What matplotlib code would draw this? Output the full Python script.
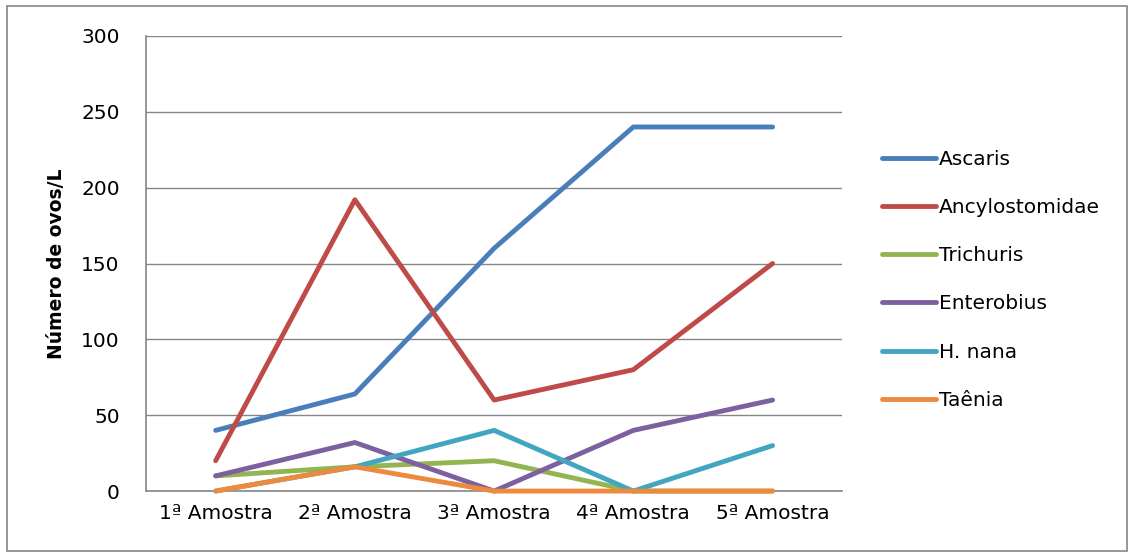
import matplotlib.pyplot as plt
import numpy as np
from matplotlib.patches import Rectangle

# Data
amostras = ['1ª Amostra', '2ª Amostra', '3ª Amostra', '4ª Amostra', '5ª Amostra']
ascaris = [40, 64, 160, 240, 240]
ancylostomidae = [20, 192, 60, 80, 150]
trichuris = [10, 16, 20, 0, 0]
enterobius = [10, 32, 0, 40, 60]
h_nana = [0, 16, 40, 0, 30]
taenia = [0, 16, 0, 0, 0]

series = [('Ascaris', ascaris, '#4A7EBB'),
          ('Ancylostomidae', ancylostomidae, '#BE4B48'),
          ('Trichuris', trichuris, '#93B551'),
          ('Enterobius', enterobius, '#7D60A0'),
          ('H. nana', h_nana, '#43A6C0'),
          ('Taênia', taenia, '#EE8A3E')]

plt.rcParams['font.family'] = ['DejaVu Sans']

fig = plt.figure(figsize=(11.32, 5.53), dpi=100)
ax = fig.add_axes([0.129, 0.112, 0.615, 0.823])

x = np.arange(len(amostras))
for name, vals, col in series:
    # lines sit over the axis and are not clipped at zero
    ax.plot(x, vals, color=col, lw=3.5, label=name, zorder=3, clip_on=False,
            solid_capstyle='round', solid_joinstyle='round')

ax.set_xlim(-0.5, len(amostras) - 0.5)
ax.set_ylim(0, 300)
ax.set_yticks(range(0, 301, 50))
ax.set_xticks(x)
ax.set_xticklabels(amostras)
ax.tick_params(length=0, labelsize=14.5, pad=9)
ax.tick_params(axis='y', pad=19)
ax.grid(axis='y', color='#868686', lw=1)
ax.set_axisbelow(True)
for s in ['top', 'right']:
    ax.spines[s].set_visible(False)
for s in ['left', 'bottom']:
    ax.spines[s].set_color('#868686')
    ax.spines[s].set_linewidth(1.2)

ax.set_ylabel('Número de ovos/L', fontsize=13.5, fontweight='bold', labelpad=11)

ax.legend(loc='center left', bbox_to_anchor=(1.057, 0.464), frameon=False,
          fontsize=14.5, handlelength=2.7, handletextpad=0.15, labelspacing=1.45,
          borderpad=0, borderaxespad=0)

# outer chart border
fig.patches.append(Rectangle((0.006, 0.004), 0.99, 0.985, transform=fig.transFigure,
                             fill=False, edgecolor='#868686', lw=1.2))

fig.savefig('out.png', dpi=100, facecolor='white')
